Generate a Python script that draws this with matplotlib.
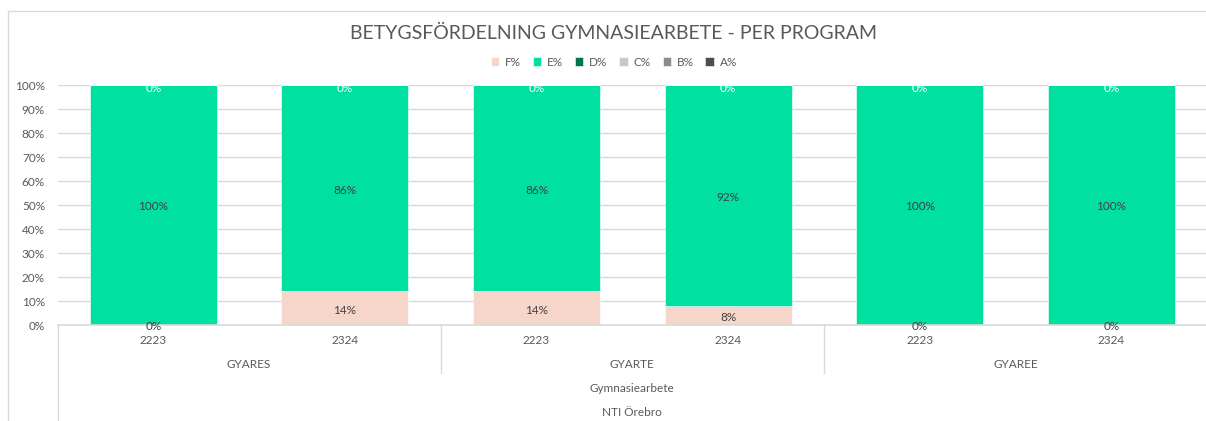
import matplotlib.pyplot as plt
from matplotlib.lines import Line2D
from matplotlib.patches import Rectangle
from matplotlib.transforms import blended_transform_factory

plt.rcParams['font.family'] = ['Lato', 'DejaVu Sans']

# data
years = ['2223', '2324', '2223', '2324', '2223', '2324']
programs = ['GYARES', 'GYARTE', 'GYAREE']
subject = 'Gymnasiearbete'
school = 'NTI Örebro'
series_names = ['F%', 'E%', 'D%', 'C%', 'B%', 'A%']
f_pct = [0, 14, 14, 8, 0, 0]
e_pct = [100, 86, 86, 92, 100, 100]
d_pct = [0, 0, 0, 0, 0, 0]
c_pct = [0, 0, 0, 0, 0, 0]
b_pct = [0, 0, 0, 0, 0, 0]
a_pct = [0, 0, 0, 0, 0, 0]

colors = ['#F6D5CB', '#00E0A0', '#00744A', '#C8C8C8', '#8C8C8C', '#4D4D4D']
label_colors = ['#404040', '#404040', 'white', 'white', 'white', 'white']
text_col = '#595959'
grid_col = '#D9D9D9'

W, H = 1206, 421
fig = plt.figure(figsize=(W / 100, H / 100), dpi=100)
ax = fig.add_axes([57.5 / W, 1 - 325 / H, 1149.6 / W, 240 / H])

# chart border (cropped on the right and bottom)
fig.patches.append(Rectangle((8 / W, -0.1), 1.2, 1 - 11 / H + 0.1,
                             transform=fig.transFigure, fill=False,
                             edgecolor=grid_col, linewidth=1))

x = list(range(len(years)))
all_series = [f_pct, e_pct, d_pct, c_pct, b_pct, a_pct]
bottom = [0] * len(x)
placed = set()  # identical labels stacked at the same spot are drawn once
for name, vals, col, lcol in zip(series_names, all_series, colors, label_colors):
    ax.bar(x, vals, width=0.663, bottom=bottom, color=col, label=name,
           edgecolor='white', linewidth=0.4, zorder=2)
    for xi, v, b0 in zip(x, vals, bottom):
        key = (xi, b0 + v / 2, v)
        if key in placed:
            continue
        placed.add(key)
        dy = -3 if (v == 0 and b0 >= 100) else -2
        ax.annotate(f'{v:.0f}%', (xi, b0 + v / 2), xytext=(0, dy),
                    textcoords='offset pixels', ha='center', va='center',
                    fontsize=8.5, color=lcol, zorder=3, annotation_clip=False)
    bottom = [b0 + v for b0, v in zip(bottom, vals)]

ax.set_xlim(-0.5, len(x) - 0.5)
ax.set_ylim(0, 100)
ax.set_yticks(range(0, 101, 10))
ax.set_yticklabels([f'{t}%' for t in range(0, 101, 10)])
ax.tick_params(axis='y', length=0, pad=9, labelsize=8.5, labelcolor=text_col)
ax.set_xticks([])
ax.yaxis.grid(True, color=grid_col, linewidth=1)
ax.set_axisbelow(True)
for s in ax.spines.values():
    s.set_visible(False)

# hierarchical category axis
tr = blended_transform_factory(ax.transData, ax.transAxes)
px = 1 / 240  # one pixel in axes fraction (vertical)
for xi, yr in zip(x, years):
    ax.text(xi, -16 * px, yr, transform=tr, ha='center', va='center',
            fontsize=8.5, color=text_col)
for gi, prog in enumerate(programs):
    ax.text(2 * gi + 0.5, -40 * px, prog, transform=tr, ha='center',
            va='center', fontsize=8.5, color=text_col)
ax.text(2.5, -64 * px, subject, transform=tr, ha='center', va='center',
        fontsize=8.5, color=text_col)
ax.text(2.5, -88 * px, school, transform=tr, ha='center', va='center',
        fontsize=8.5, color=text_col)
lines = [Line2D([-0.5, 5.5], [0, 0], transform=tr, color=grid_col, lw=1.2),
         Line2D([-0.5, -0.5], [0, -110 * px], transform=tr, color=grid_col, lw=1),
         Line2D([1.5, 1.5], [0, -48 * px], transform=tr, color=grid_col, lw=1),
         Line2D([3.5, 3.5], [0, -48 * px], transform=tr, color=grid_col, lw=1)]
for ln in lines:
    ln.set_clip_on(False)
    ax.add_line(ln)

fig.text(614 / W, 1 - 33 / H, 'BETYGSFÖRDELNING GYMNASIEARBETE - PER PROGRAM',
         ha='center', va='center', fontsize=14, color=text_col)
fig.legend(loc='center', bbox_to_anchor=(614 / W, 1 - 62 / H), ncol=6,
           frameon=False, fontsize=8.5, labelcolor=text_col, handlelength=0.7,
           handleheight=0.7, handletextpad=0.5, columnspacing=1.0)

fig.savefig('out.png', dpi=100)
